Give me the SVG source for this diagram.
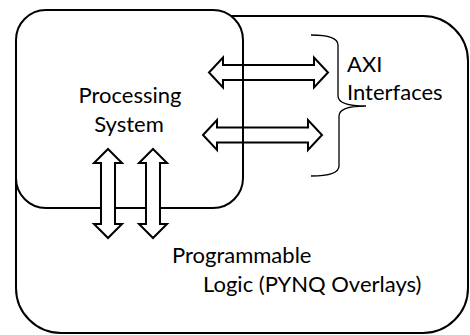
<svg xmlns="http://www.w3.org/2000/svg" width="470" height="335" viewBox="0 0 470 335">
  <style>
    .box { fill: #ffffff; stroke: #000000; stroke-width: 2; }
    .harrow { fill: none; stroke: #000000; stroke-width: 2; stroke-linejoin: miter; }
    .varrow { fill: #ffffff; stroke: #000000; stroke-width: 2; stroke-linejoin: miter; }
    .brace { fill: none; stroke: #000000; stroke-width: 1.3; }
    .label { font-family: Lato, "Open Sans", sans-serif; font-size: 22px; fill: #000000; }
  </style>
  <rect width="470" height="335" fill="#ffffff"/>

  <g id="programmable-logic">
    <rect class="box" x="16" y="16" width="452" height="317" rx="45" ry="45"/>
  </g>

  <g id="processing-system">
    <rect class="box" x="16" y="10" width="227" height="198" rx="30" ry="30"/>
    <text class="label" x="130" y="103" text-anchor="middle">Processing</text>
    <text class="label" x="129" y="132" text-anchor="middle">System</text>
  </g>

  <g id="connectors">
    <!-- AXI links crossing the PS boundary -->
    <path class="harrow" d="M209,72.5 L223,57.5 L223,65 L314,65 L314,57.5 L328,72.5 L314,87.5 L314,80 L223,80 L223,87.5 Z"/>
    <path class="harrow" d="M203,135 L217,120 L217,127.5 L308,127.5 L308,120 L322,135 L308,150 L308,142.5 L217,142.5 L217,150 Z"/>
    <!-- PS to PL vertical links -->
    <path class="varrow" d="M108,149 L122,163 L115,163 L115,224 L122,224 L108,238 L94,224 L101,224 L101,163 L94,163 Z"/>
    <path class="varrow" d="M153,149 L167,163 L160,163 L160,224 L167,224 L153,238 L139,224 L146,224 L146,163 L139,163 Z"/>
  </g>

  <g id="axi-interfaces">
    <path class="brace" d="M311,35 Q338,35 338,45 L338,96 Q338,106 366,106 Q339,106 339,116 L339,166 Q339,176 311,176"/>
    <text class="label" x="347" y="72">AXI</text>
    <text class="label" x="347" y="100">Interfaces</text>
  </g>

  <g id="pl-label">
    <text class="label" x="172" y="263">Programmable</text>
    <text class="label" x="203" y="292">Logic (PYNQ Overlays)</text>
  </g>
</svg>
